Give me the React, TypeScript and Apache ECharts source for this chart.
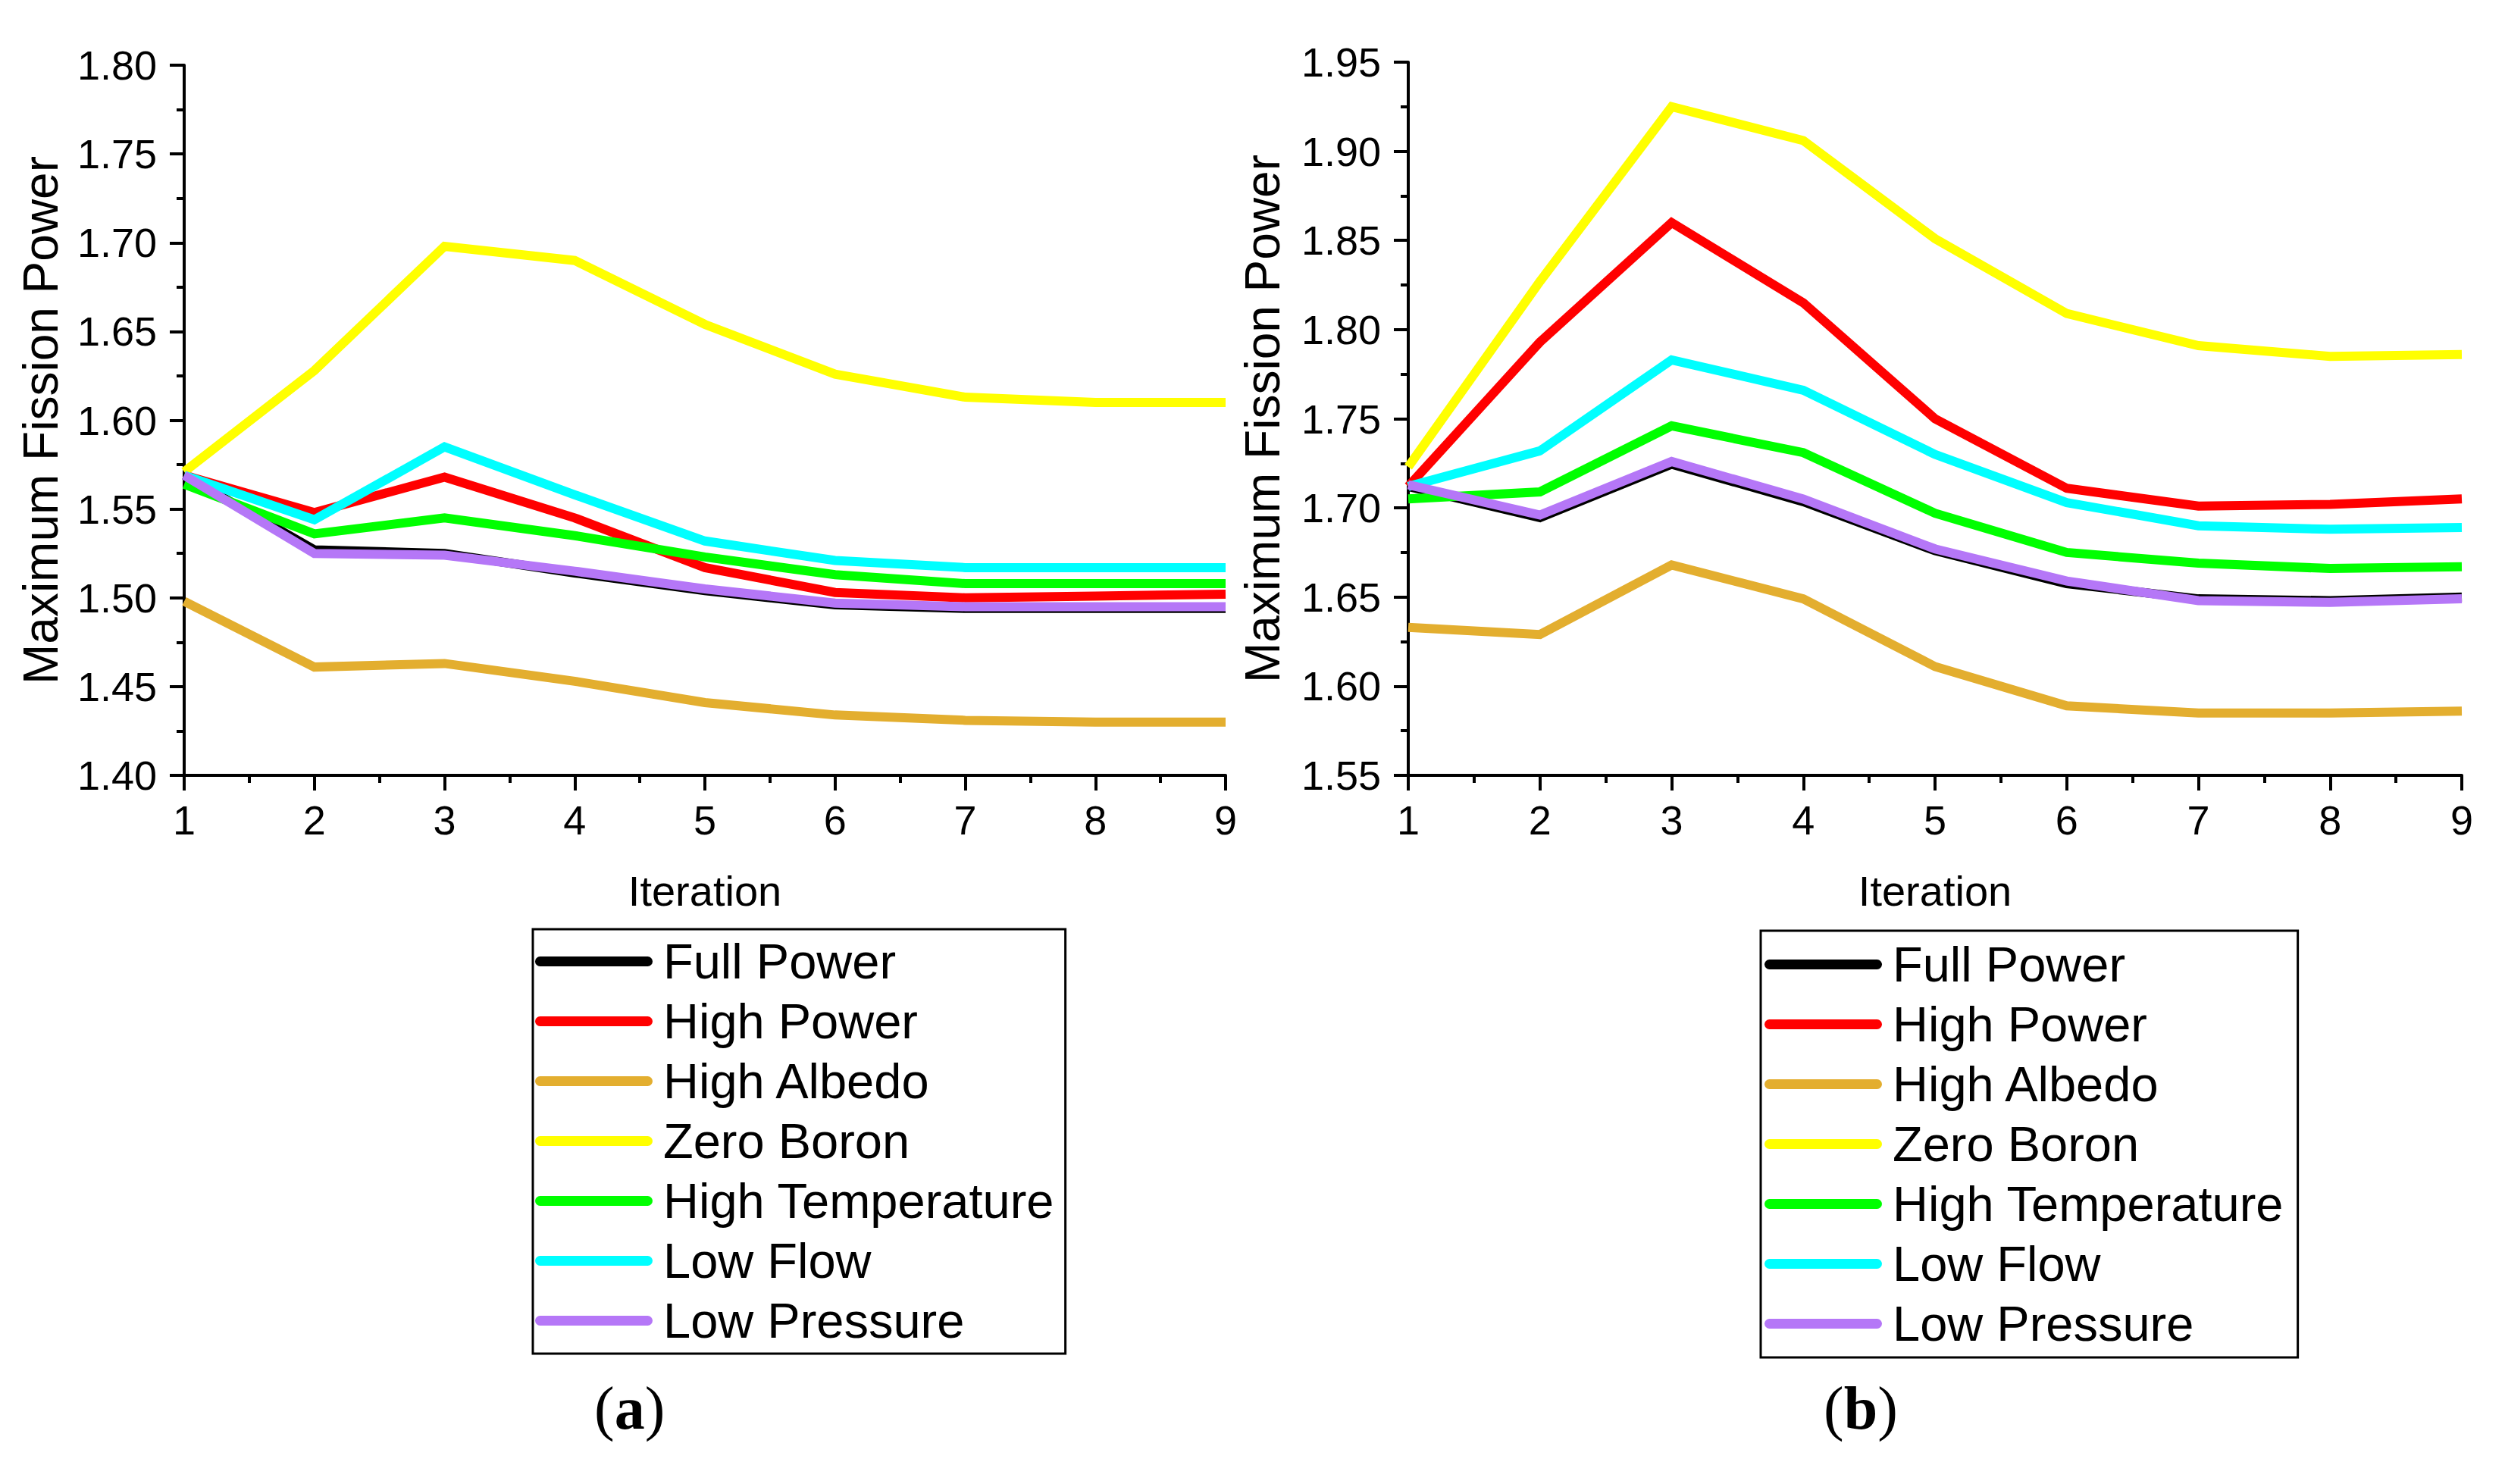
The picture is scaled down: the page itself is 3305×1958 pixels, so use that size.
import React, { useEffect, useRef } from "react";
import * as echarts from "echarts";

const iterations = [1, 2, 3, 4, 5, 6, 7, 8, 9];
const seriesNames = [
  "Full Power",
  "High Power",
  "High Albedo",
  "Zero Boron",
  "High Temperature",
  "Low Flow",
  "Low Pressure",
];
const seriesColors = ["#000000", "#FF0000", "#E3AE2F", "#FFFF00", "#00FF00", "#00FFFF", "#B577F7"];

// Panel (a)
const aFullPower = [1.569, 1.527, 1.525, 1.514, 1.504, 1.496, 1.494, 1.494, 1.494];
const aHighPower = [1.569, 1.548, 1.568, 1.545, 1.517, 1.503, 1.5, 1.501, 1.502];
const aHighAlbedo = [1.498, 1.461, 1.463, 1.453, 1.441, 1.434, 1.431, 1.43, 1.43];
const aZeroBoron = [1.571, 1.628, 1.698, 1.69, 1.654, 1.626, 1.613, 1.61, 1.61];
const aHighTemp = [1.564, 1.536, 1.545, 1.535, 1.523, 1.513, 1.508, 1.508, 1.508];
const aLowFlow = [1.569, 1.544, 1.585, 1.558, 1.532, 1.521, 1.517, 1.517, 1.517];
const aLowPressure = [1.569, 1.525, 1.524, 1.515, 1.505, 1.497, 1.495, 1.495, 1.495];

// Panel (b)
const bFullPower = [1.712, 1.6945, 1.7245, 1.7035, 1.676, 1.6575, 1.649, 1.648, 1.65];
const bHighPower = [1.712, 1.793, 1.86, 1.815, 1.75, 1.711, 1.701, 1.702, 1.705];
const bHighAlbedo = [1.633, 1.629, 1.668, 1.649, 1.611, 1.589, 1.585, 1.585, 1.586];
const bZeroBoron = [1.723, 1.827, 1.925, 1.906, 1.851, 1.809, 1.791, 1.785, 1.786];
const bHighTemp = [1.705, 1.709, 1.746, 1.731, 1.697, 1.675, 1.669, 1.666, 1.667];
const bLowFlow = [1.712, 1.732, 1.783, 1.766, 1.73, 1.703, 1.69, 1.688, 1.689];
const bLowPressure = [1.713, 1.696, 1.726, 1.705, 1.677, 1.659, 1.648, 1.647, 1.649];

const panelA = [aFullPower, aHighPower, aHighAlbedo, aZeroBoron, aHighTemp, aLowFlow, aLowPressure];
const panelB = [bFullPower, bHighPower, bHighAlbedo, bZeroBoron, bHighTemp, bLowFlow, bLowPressure];

const yTitle = "Maximum Fission Power";
const xTitle = "Iteration";

const FONT = "'Liberation Sans', Arial, sans-serif";

function xAxisCfg(gridIndex: number) {
  return {
    type: "value",
    gridIndex,
    min: 1,
    max: 9,
    interval: 1,
    name: xTitle,
    nameLocation: "middle",
    nameGap: 124,
    nameTextStyle: { fontFamily: FONT, fontSize: 56, color: "#000", lineHeight: 56 },
    axisLine: { show: true, onZero: false, lineStyle: { color: "#000", width: 4 } },
    axisTick: { show: true, inside: false, length: 20, lineStyle: { color: "#000", width: 4 } },
    minorTick: { show: true, splitNumber: 2, length: 10, lineStyle: { color: "#000", width: 4 } },
    splitLine: { show: false },
    minorSplitLine: { show: false },
    axisLabel: { fontFamily: FONT, fontSize: 54, color: "#000", margin: 32, lineHeight: 54 },
  };
}

function yAxisCfg(gridIndex: number, min: number, max: number, gap: number) {
  return {
    type: "value",
    gridIndex,
    min,
    max,
    interval: 0.05,
    name: yTitle,
    nameLocation: "middle",
    nameRotate: 90,
    nameGap: gap,
    nameTextStyle: { fontFamily: FONT, fontSize: 64, color: "#000", lineHeight: 64 },
    axisLine: { show: true, onZero: false, lineStyle: { color: "#000", width: 4 } },
    axisTick: { show: true, inside: false, length: 19, lineStyle: { color: "#000", width: 4 } },
    minorTick: { show: true, splitNumber: 2, length: 10, lineStyle: { color: "#000", width: 4 } },
    splitLine: { show: false },
    minorSplitLine: { show: false },
    axisLabel: {
      fontFamily: FONT,
      fontSize: 54,
      color: "#000",
      margin: 36,
      formatter: (v: number) => v.toFixed(2),
    },
  };
}

const legendIcon = "path://M6.5,0 H148.5 A6.5,6.5 0 0 1 148.5,13 H6.5 A6.5,6.5 0 0 1 6.5,0 Z";

function legendCfg(left: number, top: number, padding: number[]) {
  return {
    show: true,
    orient: "vertical",
    left,
    top,
    data: seriesNames,
    icon: legendIcon,
    itemWidth: 155,
    itemHeight: 13,
    itemGap: 14,
    itemTextGap: 18,
    padding,
    borderColor: "#000",
    borderWidth: 3,
    selectedMode: false,
    textStyle: {
      fontFamily: FONT,
      fontSize: 65,
      color: "#000",
      lineHeight: 65,
      padding: [0, 0, 0, 9],
    },
  };
}

export default function App() {
  const ref = useRef<HTMLDivElement>(null);

  useEffect(() => {
    if (!ref.current) return;
    const chart = echarts.init(ref.current, null, { renderer: "svg" });

    const series: any[] = [];
    [panelA, panelB].forEach((panel, gi) => {
      panel.forEach((vals, si) => {
        series.push({
          type: "line",
          name: seriesNames[si],
          xAxisIndex: gi,
          yAxisIndex: gi,
          data: iterations.map((it, k) => [it, vals[k]]),
          symbol: "none",
          showSymbol: false,
          lineStyle: { color: seriesColors[si], width: 12, join: "miter" },
          itemStyle: { color: seriesColors[si] },
          z: 2 + si,
        });
      });
    });

    const labelText = (ch: string, x: number, y: number) => ({
      type: "text",
      left: x - 45,
      top: y - 45,
      style: {
        text: "{p|(}{b|" + ch + "}{p|)}",
        rich: {
          p: { fontFamily: "'Liberation Serif', 'Times New Roman', serif", fontSize: 80, fill: "#000" },
          b: {
            fontFamily: "'Liberation Serif', 'Times New Roman', serif",
            fontSize: 80,
            fontWeight: "bold",
            fill: "#000",
          },
        },
      },
    });

    chart.setOption({
      animation: false,
      backgroundColor: "#fff",
      grid: [
        { left: 243, top: 86, width: 1374, height: 937, containLabel: false },
        { left: 1858, top: 82, width: 1390, height: 941, containLabel: false },
      ],
      xAxis: [xAxisCfg(0), xAxisCfg(1)],
      yAxis: [yAxisCfg(0, 1.4, 1.8, 157), yAxisCfg(1, 1.55, 1.95, 160)],
      legend: [legendCfg(703, 1226, [10, 14, 11, 3]), legendCfg(2323, 1228, [12, 18, 12, 5])],
      series,
      graphic: [labelText("a", 829, 1863), labelText("b", 2451, 1863)],
    });

    return () => chart.dispose();
  }, []);

  return (
    <div
      ref={ref}
      style={{ position: "fixed", left: 0, top: 0, width: 3305, height: 1958, background: "#fff" }}
    />
  );
}
